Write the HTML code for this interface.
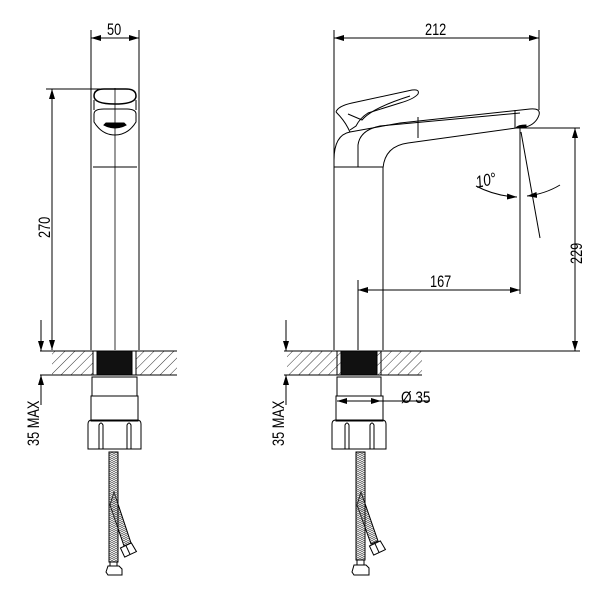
<!DOCTYPE html>
<html><head><meta charset="utf-8"><style>
html,body{margin:0;padding:0;background:#fff}
svg{display:block}
text{font-family:"Liberation Sans",sans-serif;font-size:17px;fill:#000}
</style></head><body>
<svg width="600" height="600" viewBox="0 0 600 600" xmlns="http://www.w3.org/2000/svg">
<defs>
<pattern id="hatch" width="7" height="7" patternUnits="userSpaceOnUse" patternTransform="rotate(45)">
<line x1="0" y1="0" x2="0" y2="7" stroke="#000" stroke-width="0.8"/>
</pattern>
<pattern id="braid" width="4" height="4" patternUnits="userSpaceOnUse">
<path d="M0 0 L2 2 L4 0 M0 2 L2 4 L4 2" stroke="#555" stroke-width="0.7" fill="none"/>
</pattern>
<marker id="ar" viewBox="0 0 10 6" refX="10" refY="3" markerWidth="10" markerHeight="6" markerUnits="userSpaceOnUse" orient="auto-start-reverse">
<path d="M0 0 L10 3 L0 6 Z" fill="#000"/>
</marker>
</defs>
<g stroke="#000" stroke-width="1" fill="none">
<!-- LEFT VIEW -->
<line x1="91" y1="30" x2="91" y2="350"/>
<line x1="139" y1="30" x2="139" y2="350"/>
<line x1="91" y1="38" x2="139" y2="38" marker-start="url(#ar)" marker-end="url(#ar)"/>
<line x1="115" y1="88" x2="115" y2="350" stroke-width="0.8"/>
<path d="M94 96 Q94 89 104 89 L126 89 Q136 89 136 96 Q136 104 115 104 Q94 104 94 96 Z" stroke-width="1.5"/>
<path d="M94 100 L94 110 M136 100 L136 110"/>
<path d="M94 114 Q94 109 104 109 L126 109 Q136 109 136 114 L136 122 Q128 135 115 135 Q102 135 94 122 Z"/>
<path d="M104 125 Q115 131 126 125 L124 123 L106 123 Z" fill="#000"/>
<line x1="93" y1="167" x2="137" y2="167"/>
<line x1="46" y1="89" x2="115" y2="89"/>
<line x1="52" y1="89" x2="52" y2="350" marker-start="url(#ar)" marker-end="url(#ar)"/>
<!-- counter left -->
<rect x="52" y="351" width="125" height="24" fill="url(#hatch)" stroke="none"/>
<line x1="40" y1="351" x2="177" y2="351"/>
<line x1="40" y1="375" x2="177" y2="375"/>
<rect x="97" y="351" width="35" height="24" fill="#111" stroke="#000"/>
<rect x="93" y="351" width="4" height="24" fill="#fff"/>
<rect x="132" y="351" width="4" height="24" fill="#fff"/>
<line x1="41" y1="320" x2="41" y2="351" marker-end="url(#ar)"/>
<line x1="41" y1="405" x2="41" y2="375" marker-end="url(#ar)"/>
<!-- nut left -->
<rect x="92" y="377" width="45" height="19"/>
<rect x="91" y="396" width="47" height="25"/>
<path d="M88 449 L88 424 Q88 420 92 420 L137 420 Q141 420 141 424 L141 449 Z"/>
<path d="M99 449 L99 425 Q101 421 103 425 L103 449 M127 449 L127 425 Q129 421 131 425 L131 449"/>
<!-- hoses left -->
<path d="M114 492 L131 543 L124 546 L110 505 Z" fill="url(#braid)"/>
<rect x="109" y="452" width="9" height="110" fill="url(#braid)"/>
<rect x="110" y="562" width="7" height="4"/>
<path d="M108 566 L119 566 L122 569 L122 575 L108 575 L106 572 Z"/>
<g transform="rotate(-25 128 550)"><path d="M122 545 L134 545 L135 555 L122 555 Z"/><line x1="128" y1="545" x2="128" y2="555"/></g>
<!-- RIGHT VIEW -->
<line x1="334" y1="30" x2="334" y2="350"/>
<line x1="539" y1="30" x2="539" y2="110"/>
<line x1="334" y1="38" x2="539" y2="38" marker-start="url(#ar)" marker-end="url(#ar)"/>
<path d="M336 112 Q338 106 352 103 L412 90 Q420 89 418 94 Q414 99 400 103 L368 113 Q360 118 356 126 L350 130"/>
<path d="M348 114 L362 120 Q372 108 410 96"/>
<path d="M336 112 Q344 120 348 128 L350 132"/>
<path d="M334 160 Q334 135 350 132 Q372 128 400 123 L530 109 Q541 108 539 115 Q536 124 526 127"/>
<path d="M358 167 L358 145 Q360 130 380 126 L520 113"/>
<path d="M383 350 L383 168 Q385 146 408 143 L516 128"/>
<path d="M516 128 Q518 125 526 125 L526 128 Z" fill="#000"/>
<line x1="334" y1="167" x2="383" y2="167"/>
<line x1="418" y1="117" x2="418" y2="138"/>
<line x1="515" y1="110" x2="515" y2="128"/>
<line x1="520" y1="128" x2="580" y2="128"/>
<line x1="575" y1="128" x2="575" y2="351" marker-start="url(#ar)" marker-end="url(#ar)"/>
<line x1="520" y1="128" x2="520" y2="294"/>
<line x1="358" y1="290" x2="520" y2="290" marker-start="url(#ar)" marker-end="url(#ar)"/>
<line x1="358" y1="280" x2="358" y2="350"/>
<line x1="521" y1="132" x2="540" y2="238"/>
<path d="M476 186 Q495 196 517 197" marker-end="url(#ar)"/>
<path d="M560 185 Q545 194 527 196" marker-end="url(#ar)"/>
<!-- counter right -->
<rect x="287" y="351" width="135" height="24" fill="url(#hatch)" stroke="none"/>
<line x1="284" y1="351" x2="580" y2="351"/>
<line x1="284" y1="375" x2="422" y2="375"/>
<rect x="341" y="351" width="36" height="24" fill="#111"/>
<line x1="337" y1="351" x2="337" y2="375"/>
<line x1="381" y1="351" x2="381" y2="375"/>
<line x1="286" y1="320" x2="286" y2="351" marker-end="url(#ar)"/>
<line x1="286" y1="405" x2="286" y2="375" marker-end="url(#ar)"/>
<!-- nut right -->
<rect x="337" y="377" width="44" height="19"/>
<rect x="336" y="396" width="47" height="25"/>
<line x1="337" y1="401" x2="381" y2="401" marker-start="url(#ar)" marker-end="url(#ar)"/>
<line x1="381" y1="401" x2="430" y2="401"/>
<path d="M332 449 L332 424 Q332 420 336 420 L382 420 Q386 420 386 424 L386 449 Z"/>
<path d="M345 449 L345 425 Q347 421 349 425 L349 449 M370 449 L370 425 Q372 421 374 425 L374 449"/>
<!-- hoses right -->
<path d="M361 492 L378 541 L371 544 L357 505 Z" fill="url(#braid)"/>
<rect x="356" y="452" width="9" height="108" fill="url(#braid)"/>
<rect x="357" y="560" width="7" height="5"/>
<path d="M354 565 L366 565 L369 568 L369 575 L354 575 L352 572 Z"/>
<g transform="rotate(-25 377 548)"><path d="M371 543 L383 543 L384 553 L371 553 Z"/><line x1="377" y1="543" x2="377" y2="553"/></g>
</g>
<text transform="translate(107,35) scale(0.75,1)">50</text>
<text transform="translate(425,35) scale(0.75,1)">212</text>
<text transform="translate(430,287) scale(0.75,1)">167</text>
<text transform="translate(401,403) scale(0.8,1)">Ø 35</text>
<text transform="translate(50,238) rotate(-90) scale(0.75,1)">270</text>
<text transform="translate(582,264) rotate(-90) scale(0.75,1)">229</text>
<text transform="translate(39,446) rotate(-90) scale(0.75,1)">35 MAX</text>
<text transform="translate(284,446) rotate(-90) scale(0.75,1)">35 MAX</text>
<text transform="translate(477,188) rotate(-12) scale(0.8,1)" style="font-style:italic">10°</text>
</svg>
</body></html>
